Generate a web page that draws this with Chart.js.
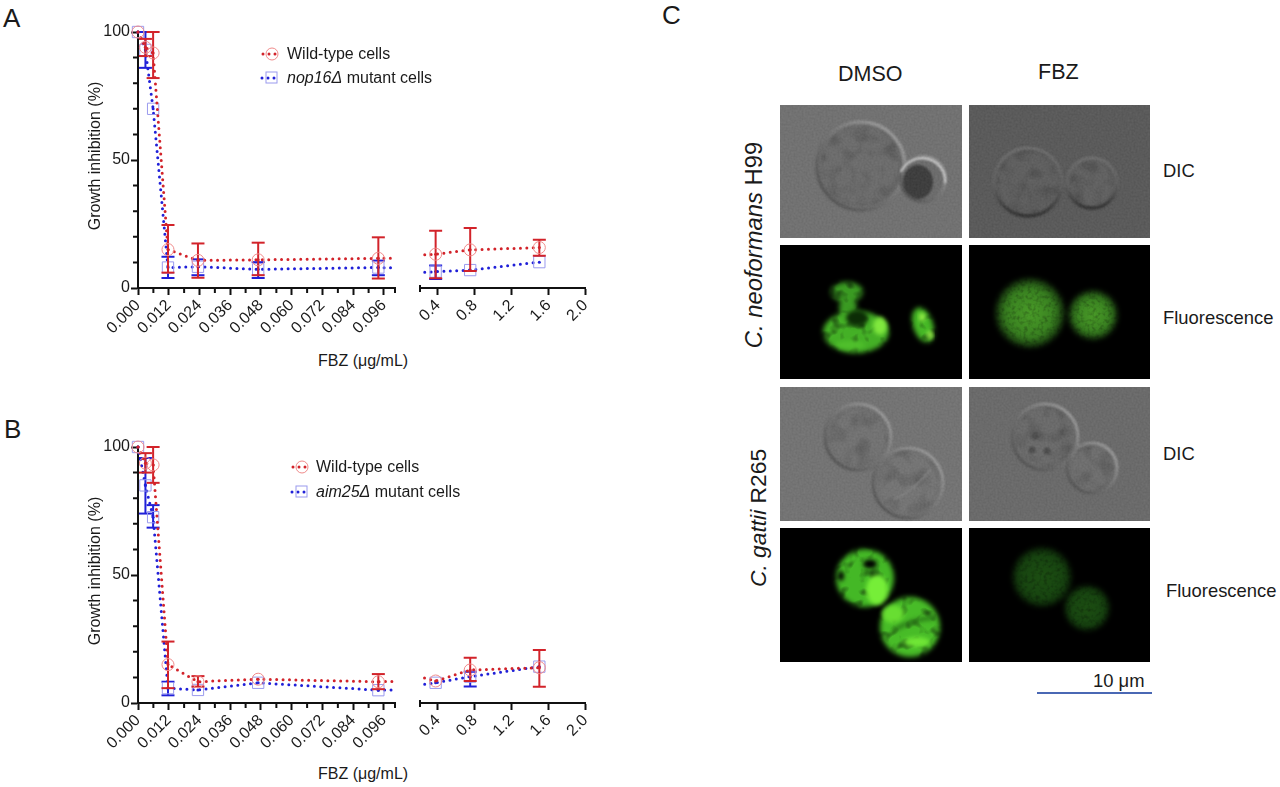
<!DOCTYPE html>
<html>
<head>
<meta charset="utf-8">
<title>FBZ growth inhibition</title>
<script src="https://cdn.jsdelivr.net/npm/chart.js@4"></script>
<style>
  html, body { margin: 0; background: #fff; }
  #page { position: relative; width: 1280px; height: 787px; overflow: hidden; font-family: "Liberation Sans", Arial, sans-serif; color: #1a1a1a; }
  canvas, svg { position: absolute; }
  .t { position: absolute; white-space: nowrap; font-size: 16px; line-height: 18px; }
  .big { font-size: 26px; line-height: 30px; }
  .lab { font-size: 18.4px; line-height: 22px; }
  .rot { transform: translate(-50%, -50%) rotate(-90deg); }
</style>
</head>
<body>
<div id="page">
  <svg width="1280" height="787" viewBox="0 0 1280 787" color-interpolation-filters="sRGB">
    <defs>
      <linearGradient id="relief" x1="1" y1="0" x2="0" y2="1">
        <stop offset="0" stop-color="#a8a8a8"/>
        <stop offset="0.5" stop-color="#747474"/>
        <stop offset="1" stop-color="#474747"/>
      </linearGradient>
      <linearGradient id="reliefDark" x1="0.5" y1="0" x2="0.5" y2="1">
        <stop offset="0" stop-color="#6c6c6c"/>
        <stop offset="0.55" stop-color="#5e5e5e"/>
        <stop offset="1" stop-color="#2e2e2e"/>
      </linearGradient>
      <radialGradient id="glow">
        <stop offset="0" stop-color="#4a9c28"/>
        <stop offset="0.7" stop-color="#388020"/>
        <stop offset="1" stop-color="#10280a"/>
      </radialGradient>
      <radialGradient id="dimGlow">
        <stop offset="0" stop-color="#1c4e12"/>
        <stop offset="0.75" stop-color="#174410"/>
        <stop offset="1" stop-color="#081a05"/>
      </radialGradient>
      <filter id="b1"><feGaussianBlur stdDeviation="1.2"/></filter>
      <filter id="b2"><feGaussianBlur stdDeviation="2"/></filter>
      <filter id="grain" x="0" y="0" width="1" height="1">
        <feTurbulence type="fractalNoise" baseFrequency="0.5" numOctaves="2" seed="3"/>
        <feColorMatrix values="1 0 0 0 0 1 0 0 0 0 1 0 0 0 0 0 0 0 0 1"/>
      </filter>
      <filter id="mottle" x="-20%" y="-20%" width="140%" height="140%">
        <feGaussianBlur stdDeviation="2" result="s"/>
        <feTurbulence type="fractalNoise" baseFrequency="0.07" numOctaves="2" seed="7"/>
        <feGaussianBlur stdDeviation="1.5"/>
        <feColorMatrix values="1.6 0 0 0 0.1 1.6 0 0 0 0.1 1.6 0 0 0 0.1 0 0 0 0 1" result="n"/>
        <feComposite in="s" in2="n" operator="arithmetic" k1="0.3" k2="0.72"/>
      </filter>
      <filter id="tex" x="-20%" y="-20%" width="140%" height="140%">
        <feGaussianBlur stdDeviation="2.6" result="s"/>
        <feTurbulence type="fractalNoise" baseFrequency="0.1" numOctaves="2" seed="11"/>
        <feGaussianBlur stdDeviation="1.2"/>
        <feColorMatrix values="2.4 0 0 0 -0.2 2.4 0 0 0 -0.2 2.4 0 0 0 -0.2 0 0 0 0 1" result="n"/>
        <feComposite in="s" in2="n" operator="arithmetic" k1="0.7" k2="0.3"/>
      </filter>
      <filter id="soft" x="-20%" y="-20%" width="140%" height="140%">
        <feGaussianBlur stdDeviation="2.6" result="s"/>
        <feTurbulence type="fractalNoise" baseFrequency="0.25" numOctaves="2" seed="5"/>
        <feGaussianBlur stdDeviation="0.7"/>
        <feColorMatrix values="1.6 0 0 0 0.1 1.6 0 0 0 0.1 1.6 0 0 0 0.1 0 0 0 0 1" result="n"/>
        <feComposite in="s" in2="n" operator="arithmetic" k1="0.4" k2="0.6"/>
      </filter>
    </defs>

    <!-- legend markers -->
    <g>
      <path d="M263 54H281" stroke="#d2232a" stroke-width="3" stroke-linecap="round" stroke-dasharray="0 6"/>
      <circle cx="272" cy="54" r="6" fill="none" stroke="#f08a8a"/>
      <path d="M262 78H280" stroke="#2020d8" stroke-width="3" stroke-linecap="round" stroke-dasharray="0 6"/>
      <rect x="266" y="72" width="11" height="11" fill="none" stroke="#9a9aee"/>
      <path d="M293 467H311" stroke="#d2232a" stroke-width="3" stroke-linecap="round" stroke-dasharray="0 6"/>
      <circle cx="302" cy="467" r="6" fill="none" stroke="#f08a8a"/>
      <path d="M292 492H310" stroke="#2020d8" stroke-width="3" stroke-linecap="round" stroke-dasharray="0 6"/>
      <rect x="296" y="486" width="11" height="11" fill="none" stroke="#9a9aee"/>
    </g>

    <!-- H99 DMSO DIC -->
    <rect x="780" y="105" width="182" height="133" fill="#717171"/>
    <circle cx="861" cy="166" r="42" fill="#6a6a6a" filter="url(#mottle)"/>
    <g filter="url(#b1)">
      <circle cx="861" cy="166" r="44" fill="none" stroke="url(#relief)" stroke-width="3.5"/>
      <circle cx="923" cy="179" r="21" fill="#6c6c6c"/>
      <ellipse cx="918" cy="182" rx="15" ry="17" fill="#3a3a3a"/>
      <circle cx="923" cy="179" r="22.5" fill="none" stroke="url(#relief)" stroke-width="3"/>
      <path d="M901 172A23 23 0 0 1 945 183" fill="none" stroke="#d8d8d8" stroke-width="2"/>
    </g>
    <!-- H99 FBZ DIC -->
    <rect x="969" y="105" width="181" height="133" fill="#585858"/>
    <circle cx="1028" cy="182" r="33" fill="#5c5c5c" filter="url(#mottle)"/>
    <circle cx="1092" cy="183" r="24" fill="#5e5e5e" filter="url(#mottle)"/>
    <g filter="url(#b1)">
      <circle cx="1028" cy="182" r="34" fill="none" stroke="url(#reliefDark)" stroke-width="3.5"/>
      <circle cx="1092" cy="183" r="25" fill="none" stroke="url(#reliefDark)" stroke-width="3.5"/>
    </g>
    <!-- H99 DMSO fluorescence -->
    <rect x="780" y="245" width="182" height="134" fill="#000"/>
    <g filter="url(#tex)">
      <ellipse cx="847" cy="292" rx="16" ry="10" fill="#3a9a22"/>
      <ellipse cx="848" cy="308" rx="9" ry="11" fill="#3a9a22"/>
      <ellipse cx="856" cy="332" rx="33" ry="21" fill="#44b026"/>
    </g>
    <g filter="url(#b2)">
      <ellipse cx="857" cy="318" rx="11" ry="8" fill="#0c2c06"/>
      <ellipse cx="880" cy="326" rx="7" ry="9" fill="#80e83e"/>
      <ellipse cx="850" cy="345" rx="15" ry="4" fill="#50c02c"/>
    </g>
    <g filter="url(#tex)">
      <ellipse cx="923" cy="325" rx="10" ry="18" fill="#46b826" transform="rotate(-18 923 325)"/>
    </g>
    <g filter="url(#b2)">
      <ellipse cx="922" cy="317" rx="3" ry="4" fill="#9bf04a"/>
      <ellipse cx="930" cy="335" rx="3" ry="4" fill="#9bf04a"/>
    </g>
    <!-- H99 FBZ fluorescence -->
    <rect x="969" y="245" width="181" height="134" fill="#000"/>
    <g filter="url(#soft)">
      <circle cx="1030" cy="313" r="35" fill="url(#glow)"/>
      <circle cx="1093" cy="315" r="25" fill="url(#glow)"/>
    </g>
    <!-- R265 DMSO DIC -->
    <rect x="780" y="387" width="182" height="134" fill="#737373"/>
    <circle cx="858" cy="437" r="31" fill="#707070" filter="url(#mottle)"/>
    <circle cx="908" cy="483" r="33" fill="#727272" filter="url(#mottle)"/>
    <g filter="url(#b1)">
      <circle cx="858" cy="437" r="33" fill="none" stroke="url(#relief)" stroke-width="3"/>
      <circle cx="908" cy="483" r="35" fill="none" stroke="url(#relief)" stroke-width="3"/>
      <path d="M893 500Q915 490 930 470" fill="none" stroke="#868686" stroke-width="1.5"/>
    </g>
    <!-- R265 FBZ DIC -->
    <rect x="969" y="387" width="181" height="134" fill="#6a6a6a"/>
    <circle cx="1045" cy="437" r="31" fill="#686868" filter="url(#mottle)"/>
    <circle cx="1092" cy="468" r="24" fill="#6c6c6c" filter="url(#mottle)"/>
    <g filter="url(#b1)">
      <circle cx="1045" cy="437" r="33" fill="none" stroke="url(#relief)" stroke-width="3"/>
      <circle cx="1092" cy="468" r="25" fill="none" stroke="url(#relief)" stroke-width="3"/>
      <circle cx="1035" cy="436" r="3.5" fill="#4a4a4a"/>
      <circle cx="1032" cy="450" r="3.5" fill="#4a4a4a"/>
      <circle cx="1047" cy="451" r="3.5" fill="#4a4a4a"/>
      <circle cx="1062" cy="432" r="2.5" fill="#525252"/>
    </g>
    <!-- R265 DMSO fluorescence -->
    <rect x="780" y="528" width="182" height="134" fill="#000"/>
    <g filter="url(#tex)">
      <circle cx="865" cy="578" r="29" fill="#44b826"/>
      <circle cx="910" cy="627" r="30" fill="#48bc28"/>
    </g>
    <g filter="url(#b2)">
      <ellipse cx="877" cy="590" rx="11" ry="15" fill="#76ee38"/>
      <ellipse cx="870" cy="564" rx="7" ry="4.5" fill="#000"/>
      <ellipse cx="841" cy="576" rx="3" ry="5" fill="#000"/>
      <ellipse cx="893" cy="614" rx="11" ry="9" fill="#68de32"/>
      <ellipse cx="917" cy="642" rx="13" ry="5" fill="#70e636"/>
      <path d="M894 630Q915 618 934 618" fill="none" stroke="#2a7a18" stroke-width="4"/>
    </g>
    <!-- R265 FBZ fluorescence -->
    <rect x="969" y="528" width="181" height="134" fill="#000"/>
    <g filter="url(#soft)">
      <circle cx="1042" cy="577" r="30" fill="url(#dimGlow)"/>
      <circle cx="1087" cy="608" r="23" fill="url(#dimGlow)"/>
    </g>
    <!-- fine grain over the DIC frames -->
    <g opacity="0.07">
      <rect x="780" y="105" width="182" height="133" filter="url(#grain)"/>
      <rect x="969" y="105" width="181" height="133" filter="url(#grain)"/>
      <rect x="780" y="387" width="182" height="134" filter="url(#grain)"/>
      <rect x="969" y="387" width="181" height="134" filter="url(#grain)"/>
    </g>
    <!-- scale bar -->
    <rect x="1037" y="692" width="115" height="2" fill="#4a68b4"/>
  </svg>

  <canvas id="chartALeft" width="355" height="333" style="left:50px;top:15px"></canvas>
  <canvas id="chartARight" width="190" height="333" style="left:410px;top:15px"></canvas>
  <canvas id="chartBLeft" width="355" height="333" style="left:50px;top:430px"></canvas>
  <canvas id="chartBRight" width="190" height="333" style="left:410px;top:430px"></canvas>

  <div class="t big" style="left:3px;top:3px">A</div>
  <div class="t big" style="left:4px;top:414px">B</div>
  <div class="t big" style="left:662px;top:0">C</div>

  <div class="t rot" style="left:95px;top:156px">Growth inhibition (%)</div>
  <div class="t rot" style="left:95px;top:571px">Growth inhibition (%)</div>
  <div class="t" style="left:318px;top:352px">FBZ (μg/mL)</div>
  <div class="t" style="left:318px;top:765px">FBZ (μg/mL)</div>

  <div class="t" style="left:287px;top:45px">Wild-type cells</div>
  <div class="t" style="left:287px;top:69px"><i>nop16Δ</i> mutant cells</div>
  <div class="t" style="left:316px;top:458px">Wild-type cells</div>
  <div class="t" style="left:316px;top:483px"><i>aim25Δ</i> mutant cells</div>

  <div class="t" style="left:838px;top:62px;font-size:21.5px;line-height:24px">DMSO</div>
  <div class="t" style="left:1038px;top:60px;font-size:21.5px;line-height:24px">FBZ</div>
  <div class="t lab" style="left:1163px;top:160px">DIC</div>
  <div class="t lab" style="left:1163px;top:307px">Fluorescence</div>
  <div class="t lab" style="left:1163px;top:443px">DIC</div>
  <div class="t lab" style="left:1166px;top:580px">Fluorescence</div>
  <div class="t rot" style="left:754px;top:245px;font-size:23.8px;line-height:26px"><i>C. neoformans</i> H99</div>
  <div class="t rot" style="left:758px;top:518px;font-size:22.8px;line-height:26px"><i>C. gattii</i> R265</div>
  <div class="t lab" style="left:1093px;top:670px">10 μm</div>
</div>

<script>
// axes
const doses = [0, 0.0029, 0.0059, 0.0117, 0.0234, 0.0469, 0.0938, 0.1875, 0.375, 0.75, 1.5];
const gapDose = 0.1875; // falls in the axis break, line only
const yTicks = [0, 50, 100];
const yMinorTicks = [10, 20, 30, 40, 60, 70, 80, 90];
const xTicksLeft = [0, 0.012, 0.024, 0.036, 0.048, 0.06, 0.072, 0.084, 0.096];
const xMinorLeft = [0.006, 0.018, 0.03, 0.042, 0.054, 0.066, 0.078, 0.09, 0.1003];
const xTicksRight = [0.4, 0.8, 1.2, 1.6, 2.0];

// panel A
const aWildMean = [100, 94, 91.8, 15, 10.8, 11, 11.6, 12.9, 13.2, 14.9, 15.8];
const aWildHigh = [null, 97.3, 100, 24.6, 17.4, 17.7, 19.8, null, 22.4, 23.4, 18.8];
const aWildLow = [null, 90.6, 82, 6, 4, 5, 3.7, null, 3.8, 6.6, 12.6];
const aMutantMean = [100, 93, 70, 8, 8.3, 7.3, 8, 6, 6.4, 7, 10.1];
const aMutantHigh = [null, 100, null, 12.2, 11.2, 10.1, 10.7, null, 8.8, null, null];
const aMutantLow = [null, 86, null, 3.9, 5, 3.9, 5, null, 3.5, null, null];

// panel B
const bWildMean = [100, 93.7, 93, 15, 8.3, 9.3, 8.3, 10.4, 8.6, 12.9, 13.8];
const bWildHigh = [null, 97.6, 100, 24, 10.5, null, 11.3, null, null, 17.7, 20.7];
const bWildLow = [null, 90, 86, 5.8, 6.4, null, 5.4, null, null, 8.6, 6.3];
const bMutantMean = [100, 85, 72.6, 5.8, 5.1, 7.9, 5, 7, 7.9, 10.3, 14.2];
const bMutantHigh = [null, 95.7, 77.3, 8.3, null, null, null, null, null, 12.2, null];
const bMutantLow = [null, 74, 68.5, 3, null, null, null, null, null, 6.4, null];

const RED = '#d2232a';
const BLUE = '#2020d8';
const FONT = { family: '"Liberation Sans", Arial, sans-serif', size: 16 };

// error bars as two-point lines with dash shaped points for the caps
function errorDatasets(high, low, color) {
  const sets = [];
  doses.forEach((d, i) => {
    if (high[i] === null) return;
    sets.push({
      data: [{ x: d, y: low[i] }, { x: d, y: high[i] }],
      showLine: true,
      borderColor: color,
      borderWidth: 2,
      pointStyle: 'line',
      pointRadius: 6.5,
      pointBorderColor: color,
      pointBorderWidth: 2
    });
  });
  return sets;
}

function seriesDatasets(mean, high, low, color, markerColor, markerStyle, markerRadius, clip) {
  const points = doses.map((d, i) => ({ x: d, y: mean[i] }));
  const visible = ctx => doses[ctx.dataIndex] !== gapDose;
  const sets = [
    {
      data: points,
      showLine: false,
      pointStyle: markerStyle,
      pointRadius: ctx => visible(ctx) ? markerRadius : 0,
      pointBackgroundColor: 'transparent',
      pointBorderColor: markerColor,
      pointBorderWidth: 1
    },
    {
      data: points,
      showLine: false,
      pointRadius: ctx => visible(ctx) ? 1.5 : 0,
      pointBackgroundColor: color,
      pointBorderWidth: 0
    },
    ...errorDatasets(high, low, color),
    {
      data: points,
      showLine: true,
      borderColor: color,
      borderWidth: 3,
      borderDash: [0, 6.4],
      borderCapStyle: 'round',
      pointRadius: 0
    }
  ];
  sets.forEach(s => { s.clip = clip; });
  return sets;
}

// short ticks that Chart.js cannot size per tick
const shortTicks = {
  id: 'shortTicks',
  afterDraw(chart, args, opts) {
    const { ctx, scales, chartArea } = chart;
    ctx.save();
    ctx.strokeStyle = '#111';
    ctx.lineWidth = 2;
    ctx.beginPath();
    (opts.x || []).forEach(v => {
      const px = scales.x.getPixelForValue(v);
      ctx.moveTo(px, chartArea.bottom);
      ctx.lineTo(px, chartArea.bottom + 5);
    });
    if (opts.y) {
      opts.y.forEach(v => {
        const py = scales.y.getPixelForValue(v);
        ctx.moveTo(chartArea.left, py);
        ctx.lineTo(chartArea.left - 5, py);
      });
    }
    if (opts.cap) {
      ctx.moveTo(chartArea.left, chartArea.bottom - 3);
      ctx.lineTo(chartArea.left, chartArea.bottom + 4);
    }
    ctx.stroke();
    ctx.restore();
  }
};

function xAxis(min, max, ticks, digits) {
  return {
    type: 'linear',
    min,
    max,
    afterBuildTicks: s => { s.ticks = ticks.map(v => ({ value: v })); },
    afterFit: s => { s.height = 60; },
    border: { color: '#111', width: 2 },
    grid: { drawOnChartArea: false, tickLength: 7, tickWidth: 2, tickColor: '#111' },
    ticks: {
      autoSkip: false,
      maxRotation: 45,
      minRotation: 45,
      padding: 1,
      color: '#1a1a1a',
      font: FONT,
      callback: v => v.toFixed(digits)
    }
  };
}

function renderChart(id, datasets, x, y, padding, minor) {
  new Chart(document.getElementById(id), {
    type: 'scatter',
    data: { datasets },
    plugins: [shortTicks],
    options: {
      responsive: false,
      animation: false,
      layout: { padding },
      plugins: { legend: { display: false }, tooltip: { enabled: false }, shortTicks: minor },
      scales: { x, y }
    }
  });
}

function renderPanel(prefix, wild, mutant) {
  const build = clip => [
    ...seriesDatasets(wild[0], wild[1], wild[2], RED, '#f08a8a', 'circle', 6, clip),
    ...seriesDatasets(mutant[0], mutant[1], mutant[2], BLUE, '#9a9aee', 'rect', 8, clip)
  ];
  const yLeft = {
    min: 0,
    max: 100,
    afterBuildTicks: s => { s.ticks = yTicks.map(v => ({ value: v })); },
    afterFit: s => { s.width = 88; },
    border: { color: '#111', width: 2 },
    grid: { drawOnChartArea: false, tickLength: 7, tickWidth: 2, tickColor: '#111' },
    ticks: { padding: 1, color: '#1a1a1a', font: FONT }
  };
  renderChart(prefix + 'Left', build({ left: 9, top: 9, right: 0, bottom: 0 }),
    xAxis(0, 0.1003, xTicksLeft, 3), yLeft,
    { top: 17, right: 10 }, { x: xMinorLeft, y: yMinorTicks });
  renderChart(prefix + 'Right', build({ left: 0, top: 9, right: 0, bottom: 0 }),
    xAxis(0.2054, 2.0, xTicksRight, 1), { display: false, min: 0, max: 100 },
    { top: 17, left: 10, right: 14 }, { cap: true });
}

renderPanel('chartA', [aWildMean, aWildHigh, aWildLow], [aMutantMean, aMutantHigh, aMutantLow]);
renderPanel('chartB', [bWildMean, bWildHigh, bWildLow], [bMutantMean, bMutantHigh, bMutantLow]);
</script>
</body>
</html>
